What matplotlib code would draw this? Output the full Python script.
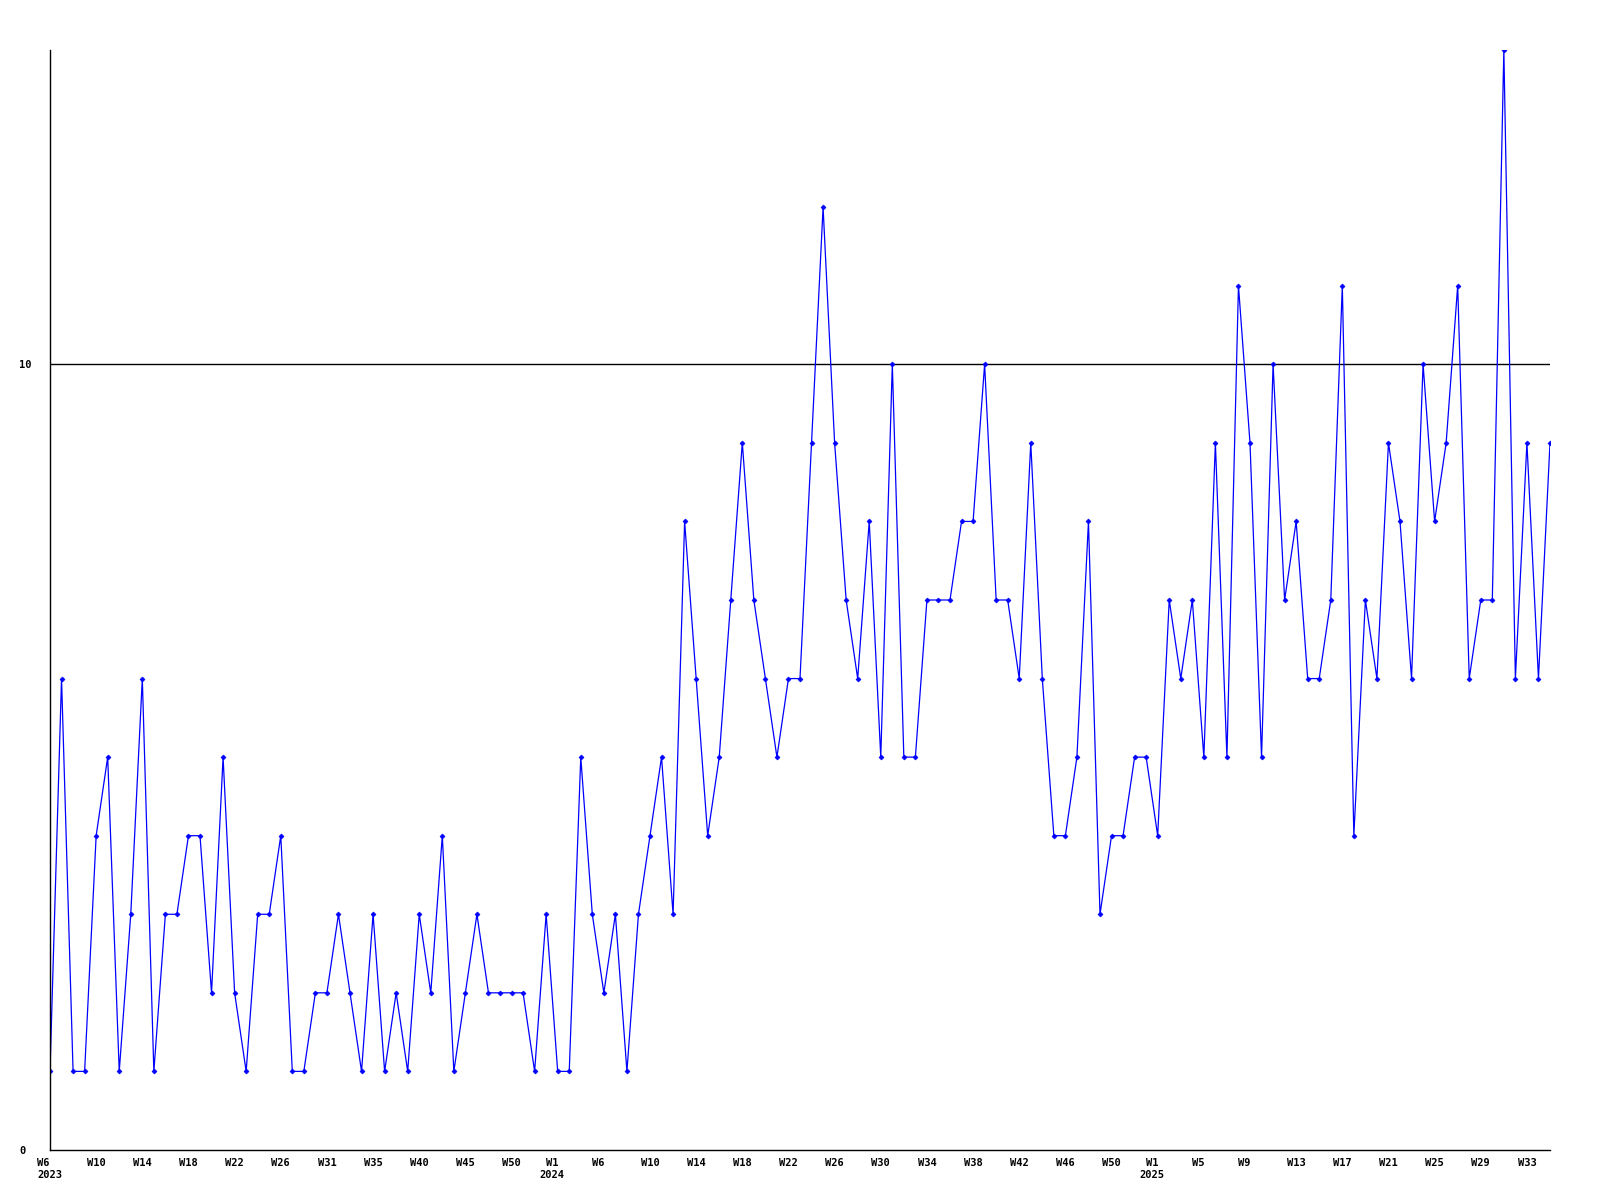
import matplotlib
matplotlib.use("Agg")
import matplotlib.pyplot as plt

# weekly counts, W6 2023 .. W34 2025
values = [1, 6, 1, 1, 4, 5, 1, 3, 6, 1, 3, 3, 4, 4, 2, 5, 2, 1, 3, 3,
          4, 1, 1, 2, 2, 3, 2, 1, 3, 1, 2, 1, 3, 2, 4, 1, 2, 3, 2, 2,
          2, 2, 1, 3, 1, 1, 5, 3, 2, 3, 1, 3, 4, 5, 3, 8, 6, 4, 5, 7,
          9, 7, 6, 5, 6, 6, 9, 12, 9, 7, 6, 8, 5, 10, 5, 5, 7, 7, 7, 8,
          8, 10, 7, 7, 6, 9, 6, 4, 4, 5, 8, 3, 4, 4, 5, 5, 4, 7, 6, 7,
          5, 9, 5, 11, 9, 5, 10, 7, 8, 6, 6, 7, 11, 4, 7, 6, 9, 8, 6, 10,
          8, 9, 11, 6, 7, 7, 14, 6, 9, 6, 9]

first_label = 'W6\n2023'
tick_pos = [4, 8, 12, 16, 20, 24, 28, 32, 36, 40, 43.5, 47.5, 52, 56, 60,
            64, 68, 72, 76, 80, 84, 88, 92, 95.5, 99.5, 103.5, 108, 112, 116,
            120, 124, 128]
tick_labels = ['W10', 'W14', 'W18', 'W22', 'W26', 'W31', 'W35',
               'W40', 'W45', 'W50', 'W1\n2024', 'W6', 'W10', 'W14', 'W18',
               'W22', 'W26', 'W30', 'W34', 'W38', 'W42', 'W46', 'W50',
               'W1\n2025', 'W5', 'W9', 'W13', 'W17', 'W21', 'W25', 'W29', 'W33']

fig = plt.figure(figsize=(16, 12), dpi=100)
ax = fig.add_axes([0.03125, 0.0417, 0.9375, 0.9166])

x = list(range(len(values)))
ax.axhline(10, color='black', linewidth=1.0, zorder=1)
ax.plot(x, values, color='#0000ff', linewidth=0.9, marker='D',
        markersize=2.5, markeredgewidth=0.5, zorder=2)

ax.set_xlim(0, len(values) - 1)
ax.set_ylim(0, 14)
ax.set_yticks([0, 10])
ax.set_yticklabels(['0', '10'])
ax.set_xticks(tick_pos)
ax.set_xticklabels(tick_labels, multialignment='center')

for lab in ax.get_xticklabels() + ax.get_yticklabels():
    lab.set_family('DejaVu Sans Mono')
    lab.set_fontweight('bold')
    lab.set_fontsize(7.5)

# y labels start at a fixed x, left aligned
for lab in ax.get_yticklabels():
    lab.set_horizontalalignment('left')

# first label sits a bit left of the axis, left aligned
ax.annotate(first_label, xy=(0, 0), xycoords=('data', 'axes fraction'),
            xytext=(-9.4, -6), textcoords='offset points',
            ha='left', va='top', multialignment='left',
            family='DejaVu Sans Mono', fontweight='bold', fontsize=7.5,
            annotation_clip=False)

ax.tick_params(axis='both', length=0)
ax.tick_params(axis='y', pad=22)
ax.tick_params(axis='x', pad=6)
ax.spines['top'].set_visible(False)
ax.spines['right'].set_visible(False)
ax.spines['left'].set_linewidth(1.0)
ax.spines['bottom'].set_linewidth(1.0)

fig.savefig('out.png', dpi=100)
